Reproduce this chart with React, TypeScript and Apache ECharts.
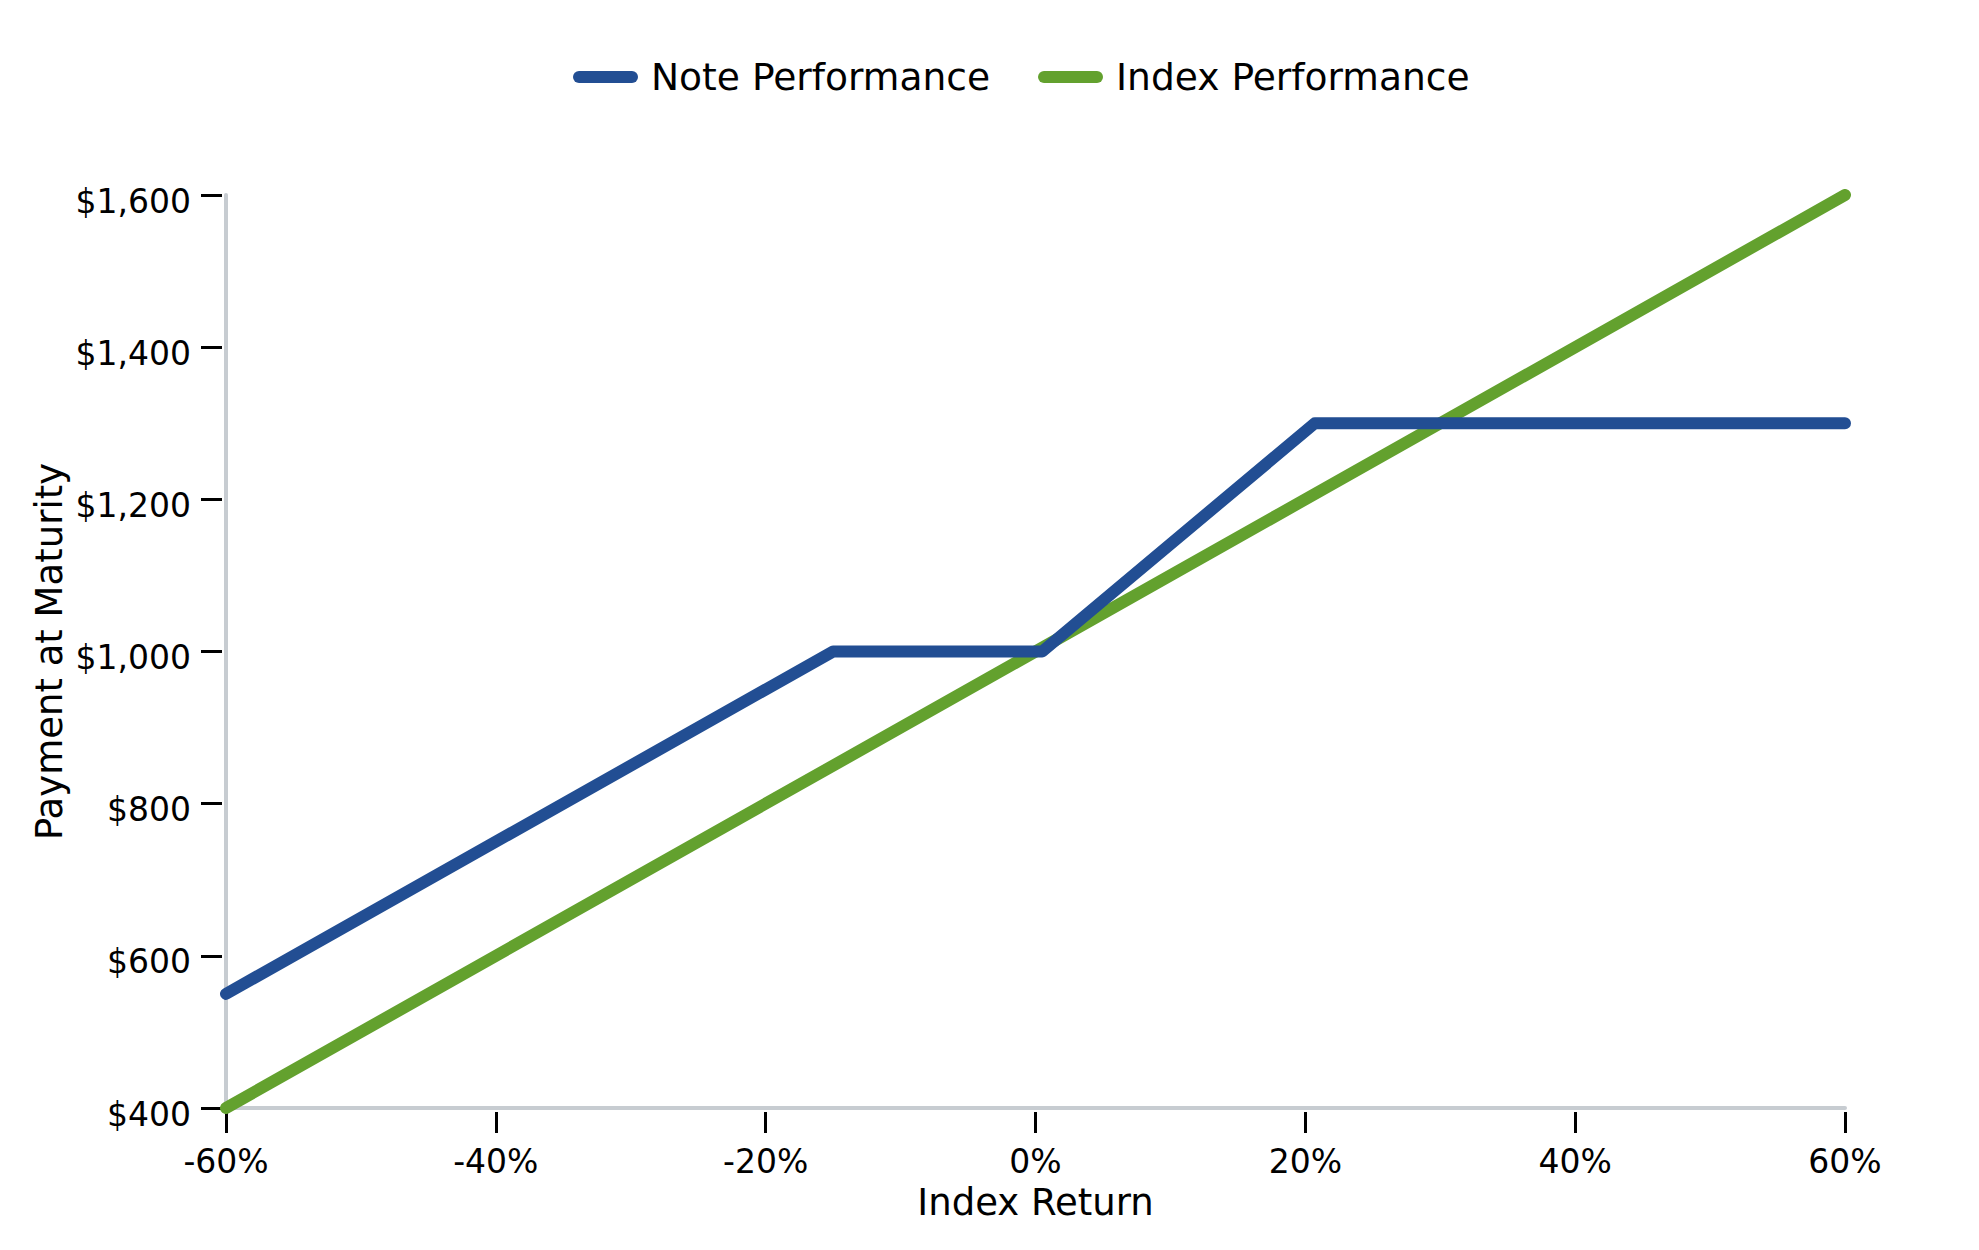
import React, { useEffect, useRef } from "react";
import * as echarts from "echarts";

const seriesNames = ["Note Performance", "Index Performance"];
// [index return %, payment $]
const notePoints: [number, number][] = [
  [-60, 550],
  [-15, 1000],
  [0.5, 1000],
  [20.7, 1300],
  [60, 1300],
];
const indexPoints: [number, number][] = [
  [-60, 400],
  [60, 1600],
];
const xTicks = { min: -60, max: 60, step: 20 };
const yTicks = { min: 400, max: 1600, step: 200 };
const xTitle = "Index Return";
const yTitle = "Payment at Maturity";

const FONT = "DejaVu Sans";
const BLUE = "#224e93";
const GREEN = "#63a12e";
const AXIS_GREY = "#c7ccd1";

export default function App() {
  const ref = useRef<HTMLDivElement>(null);
  useEffect(() => {
    if (!ref.current) return;
    const chart = echarts.init(ref.current, null, { renderer: "svg" });
    const pill = "path://M6,0 L59,0 A6,6 0 0 1 59,12 L6,12 A6,6 0 0 1 6,0 Z";
    const tickLabel = { color: "#000", fontFamily: FONT, fontSize: 33 };
    const baseX = {
      type: "value",
      min: xTicks.min,
      max: xTicks.max,
      interval: xTicks.step,
      splitLine: { show: false },
    };
    const baseY = {
      type: "value",
      min: yTicks.min,
      max: yTicks.max,
      interval: yTicks.step,
      splitLine: { show: false },
    };
    chart.setOption({
      animation: false,
      backgroundColor: "#ffffff",
      textStyle: { fontFamily: FONT },
      legend: {
        top: 53,
        left: 568,
        itemWidth: 65,
        itemHeight: 12,
        itemGap: 48,
        icon: pill,
        textStyle: {
          fontFamily: FONT,
          fontSize: 37.6,
          color: "#000",
          padding: [0, 0, 0, 8],
        },
        data: seriesNames,
      },
      grid: { left: 226, right: 134, top: 195, bottom: 142, containLabel: false },
      xAxis: [
        {
          ...baseX,
          position: "bottom",
          axisLine: { show: true, onZero: false, lineStyle: { color: AXIS_GREY, width: 4 } },
          axisTick: { show: false },
          axisLabel: { show: false },
          name: xTitle,
          nameLocation: "middle",
          nameGap: 76,
          nameTextStyle: { fontFamily: FONT, fontSize: 37, color: "#000" },
        },
        {
          ...baseX,
          position: "bottom",
          offset: 4,
          axisLine: { show: false, onZero: false },
          axisTick: { show: true, length: 21, lineStyle: { color: "#000", width: 3 } },
          axisLabel: {
            ...tickLabel,
            margin: 33,
            formatter: (v: number) => `${v}%`,
          },
        },
      ],
      yAxis: [
        {
          ...baseY,
          position: "left",
          axisLine: { show: true, onZero: false, lineStyle: { color: AXIS_GREY, width: 4 } },
          axisTick: { show: false },
          axisLabel: { show: false },
          name: yTitle,
          nameLocation: "middle",
          nameRotate: 90,
          nameGap: 158,
          nameTextStyle: { fontFamily: FONT, fontSize: 37, color: "#000" },
        },
        {
          ...baseY,
          position: "left",
          offset: 4,
          axisLine: { show: false, onZero: false },
          axisTick: { show: true, length: 21, lineStyle: { color: "#000", width: 3 } },
          axisLabel: {
            ...tickLabel,
            margin: 31,
            formatter: (v: number) => "{a|$" + v.toLocaleString("en-US") + "}",
            rich: {
              a: { ...tickLabel, padding: [12, 0, 0, 0] },
            },
          },
        },
      ],
      series: [
        {
          name: seriesNames[0],
          type: "line",
          xAxisIndex: 0,
          yAxisIndex: 0,
          data: notePoints,
          showSymbol: false,
          symbol: "none",
          color: BLUE,
          lineStyle: { color: BLUE, width: 12, cap: "round", join: "round" },
          z: 3,
        },
        {
          name: seriesNames[1],
          type: "line",
          xAxisIndex: 0,
          yAxisIndex: 0,
          data: indexPoints,
          showSymbol: false,
          symbol: "none",
          color: GREEN,
          lineStyle: { color: GREEN, width: 12, cap: "round", join: "round" },
          z: 2,
        },
      ],
    });
    return () => chart.dispose();
  }, []);
  return (
    <div
      ref={ref}
      style={{ position: "fixed", left: 0, top: 0, width: 1979, height: 1250, background: "#fff" }}
    />
  );
}
